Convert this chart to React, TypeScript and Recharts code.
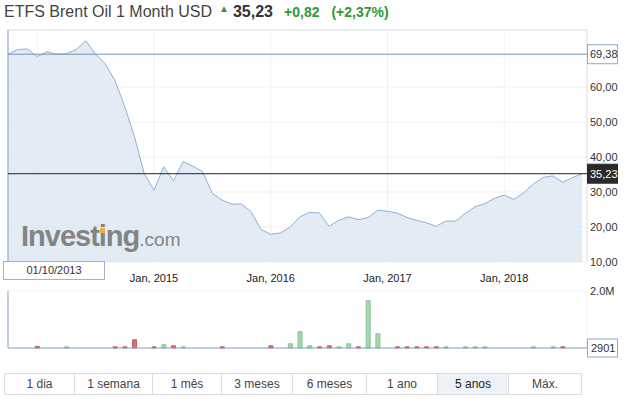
import React from 'react';
import {
  AreaChart,
  Area,
  BarChart,
  Bar,
  Cell,
  XAxis,
  YAxis,
  CartesianGrid,
  ReferenceLine,
} from 'recharts';

const FONT = 'Arial, "Liberation Sans", sans-serif';

// monthly closes, index 0 = Oct 2013 ... 59 = Sep 2018
const closes = [
  69.38, 70.7, 70.9, 68.7, 70.1, 69.4, 69.5, 70.7, 73.2, 69.4,
  66.6, 61.8, 54.4, 45.8, 35.3, 30.5, 37.2, 33.2, 38.7, 37.4,
  35.8, 29.6, 27.7, 26.5, 26.6, 24.3, 19.3, 17.9, 18.3, 20.0,
  22.9, 24.2, 24.0, 20.2, 21.9, 22.9, 22.1, 22.7, 24.8, 24.5,
  24.0, 22.7, 21.9, 21.2, 20.2, 21.7, 21.7, 23.9, 25.8, 26.7,
  28.2, 29.1, 27.9, 29.8, 32.3, 34.2, 34.6, 32.8, 34.1, 35.23,
];

// monthly volume, 0 = no bar drawn
const volumes = [
  0, 0, 0, 60000, 0, 0, 45000, 0, 0, 0,
  0, 45000, 45000, 290000, 0, 45000, 117000, 80000, 45000, 0,
  0, 0, 45000, 0, 0, 0, 0, 80000, 0, 150000,
  573000, 80000, 45000, 80000, 45000, 150000, 45000, 1660000, 503000, 0,
  45000, 45000, 45000, 45000, 45000, 45000, 0, 45000, 45000, 45000,
  0, 0, 0, 0, 45000, 0, 45000, 45000, 0, 0,
];

// Jan 2014 grid line has no label: the start-date box sits over it
const yearTicks = [3, 15, 27, 39, 51];
const yearLabels = ['', 'Jan, 2015', 'Jan, 2016', 'Jan, 2017', 'Jan, 2018'];
const priceTicks = [10, 20, 30, 40, 50, 60];
const ranges = ['1 dia', '1 semana', '1 mês', '3 meses', '6 meses', '1 ano', '5 anos', 'Máx.'];
const activeRange = '5 anos';

const title = 'ETFS Brent Oil 1 Month USD';
const startPrice = 69.38;
const lastPrice = 35.23;
const change = 0.82;
const changePct = 2.37;
const startDate = '01/10/2013';
const minVolume = 2901;
const maxVolume = 2000000;

const btnWidths = [69, 78, 69, 71, 74, 71, 71, 73];

const fmt = (v: number) => v.toFixed(2).replace('.', ',');

const priceData = closes.map((v, i) => ({ i, v }));
const volumeData = volumes.map((vol, i) => ({
  i,
  vol: vol > 0 ? vol : null,
  up: i > 0 && closes[i] >= closes[i - 1],
}));

const PriceTick = (props: any) => (
  <text x={590} y={props.y} dy={4} fontSize={11} fill="#333" fontFamily={FONT}>
    {fmt(props.payload.value)}
  </text>
);

const YearTick = (props: any) => {
  const label = yearLabels[yearTicks.indexOf(props.payload.value)];
  if (!label) return null;
  return (
    <text x={props.x} y={282} textAnchor="middle" fontSize={11} fill="#222" fontFamily={FONT}>
      {label}
    </text>
  );
};

const PriceTag = (props: any) => {
  const vb = props.viewBox || { x: 0, y: 0, width: 0 };
  const x = vb.x + vb.width;
  return (
    <g>
      <rect
        x={x + 0.5}
        y={vb.y - 9.5}
        width={30}
        height={19}
        fill={props.dark ? '#2a2a2a' : '#fff'}
        stroke={props.dark ? '#2a2a2a' : '#8eaad0'}
      />
      <text x={x + 3} y={vb.y + 4} fontSize={11} fill={props.dark ? '#fff' : '#333'} fontFamily={FONT}>
        {props.text}
      </text>
    </g>
  );
};

const VolTick = (props: any) => {
  const v = props.payload.value;
  if (v === maxVolume) {
    return (
      <text x={590} y={props.y} dy={4} fontSize={11} fill="#333" fontFamily={FONT}>
        {(v / 1000000).toFixed(1) + 'M'}
      </text>
    );
  }
  return (
    <g>
      <rect x={587.5} y={props.y - 9} width={30} height={18} fill="#fff" stroke="#8eaad0" />
      <text x={591} y={props.y} dy={4} fontSize={11} fill="#333" fontFamily={FONT}>
        {v}
      </text>
    </g>
  );
};

export default function App() {
  const green = '#2f9a2f';
  return (
    <div style={{ position: 'absolute', left: 0, top: 0, width: 632, height: 399, background: '#fff', fontFamily: FONT }}>
      {/* header */}
      <div style={{ position: 'absolute', left: 4, top: 3, display: 'flex', alignItems: 'baseline', whiteSpace: 'nowrap' }}>
        <span style={{ fontSize: 16, color: '#444' }}>{title}</span>
        <span style={{ fontSize: 10, color: green, marginLeft: 7, position: 'relative', top: -5 }}>▲</span>
        <span style={{ fontSize: 16, fontWeight: 'bold', color: '#333', marginLeft: 4 }}>{fmt(lastPrice)}</span>
        <span style={{ fontSize: 14, fontWeight: 'bold', color: green, marginLeft: 11 }}>+{fmt(change)}</span>
        <span style={{ fontSize: 14, fontWeight: 'bold', color: green, marginLeft: 12 }}>(+{fmt(changePct)}%)</span>
      </div>

      {/* price chart */}
      <div style={{ position: 'absolute', left: 0, top: 0 }}>
        <AreaChart width={632} height={290} data={priceData} margin={{ top: 30, right: 0, left: 8, bottom: 0 }}>
          <CartesianGrid stroke="#f1f1f1" />
          <XAxis
            dataKey="i"
            type="number"
            domain={[0, 59.5]}
            ticks={yearTicks}
            height={28}
            axisLine={false}
            tickLine={false}
            tick={<YearTick />}
          />
          <YAxis
            orientation="right"
            width={45}
            type="number"
            domain={[10, 76.3]}
            ticks={priceTicks}
            axisLine={false}
            tickLine={false}
            tick={<PriceTick />}
          />
          <Area
            type="linear"
            dataKey="v"
            stroke="#8fb0d6"
            strokeWidth={1}
            fill="#d9e5f2"
            fillOpacity={0.75}
            isAnimationActive={false}
          />
          <ReferenceLine y={76.3} stroke="#e2e2e2" />
          <ReferenceLine x={59.5} stroke="#e2e2e2" />
          <ReferenceLine x={0} stroke="#87a3c8" />
          <ReferenceLine y={startPrice} stroke="#7393bf" label={<PriceTag text={fmt(startPrice)} />} />
          <ReferenceLine y={lastPrice} stroke="#222" label={<PriceTag text={fmt(lastPrice)} dark />} />
        </AreaChart>
      </div>

      {/* Investing watermark */}
      <div style={{ position: 'absolute', left: 21, top: 220, color: '#848484', whiteSpace: 'nowrap' }}>
        <span style={{ fontSize: 29, fontWeight: 'bold', letterSpacing: -1 }}>Investing</span>
        <span style={{ fontSize: 19 }}>.com</span>
      </div>
      <div style={{ position: 'absolute', left: 100, top: 228, width: 5, height: 5, background: '#f0b040' }} />

      {/* start date box */}
      <div
        style={{
          position: 'absolute',
          left: 3,
          top: 261,
          width: 100,
          height: 17,
          border: '1px solid #9db2cc',
          background: '#fff',
          fontSize: 11,
          color: '#333',
          textAlign: 'center',
          lineHeight: '17px',
        }}
      >
        {startDate}
      </div>

      {/* volume chart */}
      <div style={{ position: 'absolute', left: 0, top: 280 }}>
        <BarChart width={632} height={80} data={volumeData} margin={{ top: 11, right: 0, left: 8, bottom: 12 }}>
          <CartesianGrid stroke="#f1f1f1" />
          <XAxis
            dataKey="i"
            type="number"
            domain={[0, 59.5]}
            ticks={yearTicks}
            height={0}
            axisLine={false}
            tickLine={false}
            tick={false}
          />
          <YAxis
            orientation="right"
            width={45}
            type="number"
            domain={[minVolume, maxVolume]}
            ticks={[minVolume, maxVolume]}
            axisLine={false}
            tickLine={false}
            tick={<VolTick />}
          />
          <Bar dataKey="vol" barSize={4} isAnimationActive={false}>
            {volumeData.map((d) => (
              <Cell key={d.i} fill={d.up ? '#a6d6b0' : '#d47272'} stroke={d.up ? '#88c494' : '#c25b5b'} />
            ))}
          </Bar>
          <ReferenceLine y={minVolume} stroke="#87a3c8" />
          <ReferenceLine x={0} stroke="#87a3c8" />
        </BarChart>
      </div>

      {/* range buttons */}
      <div
        style={{
          position: 'absolute',
          left: 4,
          top: 373,
          display: 'flex',
          border: '1px solid #dcdcdc',
          height: 20,
        }}
      >
        {ranges.map((r, k) => (
          <div
            key={r}
            style={{
              width: btnWidths[k],
              boxSizing: 'border-box',
              borderLeft: k > 0 ? '1px solid #dcdcdc' : 'none',
              background: r === activeRange ? '#edf2f8' : '#fff',
              fontSize: 12,
              color: r === activeRange ? '#222' : '#444',
              textAlign: 'center',
              lineHeight: '20px',
            }}
          >
            {r}
          </div>
        ))}
      </div>
    </div>
  );
}
